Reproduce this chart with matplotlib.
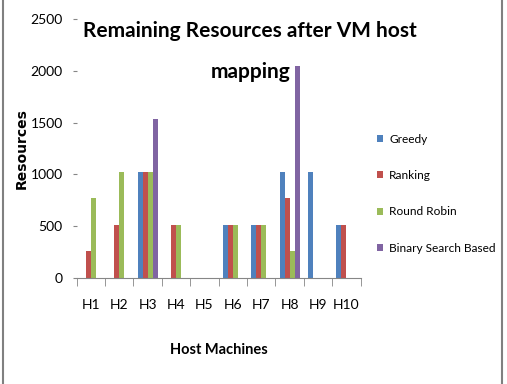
import matplotlib
matplotlib.use("Agg")
import matplotlib.pyplot as plt
import numpy as np
from matplotlib.patches import Patch
from matplotlib.lines import Line2D

hosts = ["H1", "H2", "H3", "H4", "H5", "H6", "H7", "H8", "H9", "H10"]
greedy = [0, 0, 1024, 0, 0, 512, 512, 1024, 1024, 512]
ranking = [256, 512, 1024, 512, 0, 512, 512, 768, 0, 512]
round_robin = [768, 1024, 1024, 512, 0, 512, 512, 256, 0, 0]
binary_search = [0, 0, 1536, 0, 0, 0, 0, 2048, 0, 0]

series = ["Greedy", "Ranking", "Round Robin", "Binary Search Based"]
colors = ["#4F81BD", "#C0504D", "#9BBB59", "#8064A2"]
narrow = ["Lato", "DejaVu Sans"]

W, H = 507, 384
fig = plt.figure(figsize=(W / 100, H / 100), dpi=100)
ax = fig.add_axes([76.6 / W, 1 - 278 / H, 284 / W, 259 / H])

x = np.arange(len(hosts))
bw = 0.176
for i, (vals, c) in enumerate(zip([greedy, ranking, round_robin, binary_search], colors)):
    ax.bar(x + (i - 1.5) * bw, vals, bw, color=c, linewidth=0, label=series[i])

ax.set_xlim(-0.5, len(hosts) - 0.5)
ax.set_ylim(0, 2500)
ax.set_yticks(range(0, 2501, 500))
ax.set_xticks(x)
ax.set_xticklabels(hosts, family=narrow, fontsize=10)
ax.set_xticks(np.arange(-0.5, len(hosts), 1), minor=True)
ax.tick_params(axis="x", which="major", length=0, pad=15)
ax.tick_params(axis="x", which="minor", length=6, color="#868686", direction="out")
ax.tick_params(axis="y", length=3, color="#868686", pad=7)
for lab in ax.get_yticklabels():
    lab.set_family(narrow)
    lab.set_fontsize(10)

for s in ["top", "right", "left"]:
    ax.spines[s].set_visible(False)
ax.spines["bottom"].set_color("#868686")

ax.set_xlabel("Host Machines", family=narrow, fontsize=10.5, fontweight="bold")
ax.xaxis.set_label_coords(0.5, -(350 - 278) / 259, transform=ax.transAxes)
ax.xaxis.label.set_va("center")
ax.set_ylabel("Resources", family="DejaVu Sans", fontsize=10, fontweight="bold")
ax.yaxis.set_label_coords(-(76.6 - 22) / 284, 0.5)
ax.yaxis.label.set_va("center")

fig.text(250 / W, 1 - 31 / H, "Remaining Resources after VM host", family=narrow,
         fontsize=15, fontweight="bold", ha="center", va="center")
fig.text(251 / W, 1 - 72 / H, "mapping", family=narrow,
         fontsize=15, fontweight="bold", ha="center", va="center")

handles = [Patch(color=c, linewidth=0) for c in colors]
fig.legend(handles, series, loc="upper left", bbox_to_anchor=(366 / W, 1 - 123 / H),
           frameon=False, prop={"family": narrow, "size": 8.6},
           handlelength=0.55, handleheight=0.55, handletextpad=0.5, labelspacing=2.12)

# outer frame lines
fig.add_artist(Line2D([2.5 / W, 2.5 / W], [0, 1], color="#808080", lw=1.5))
fig.add_artist(Line2D([502 / W, 502 / W], [0, 1], color="#808080", lw=1.5))

fig.savefig("out.png", dpi=100)
